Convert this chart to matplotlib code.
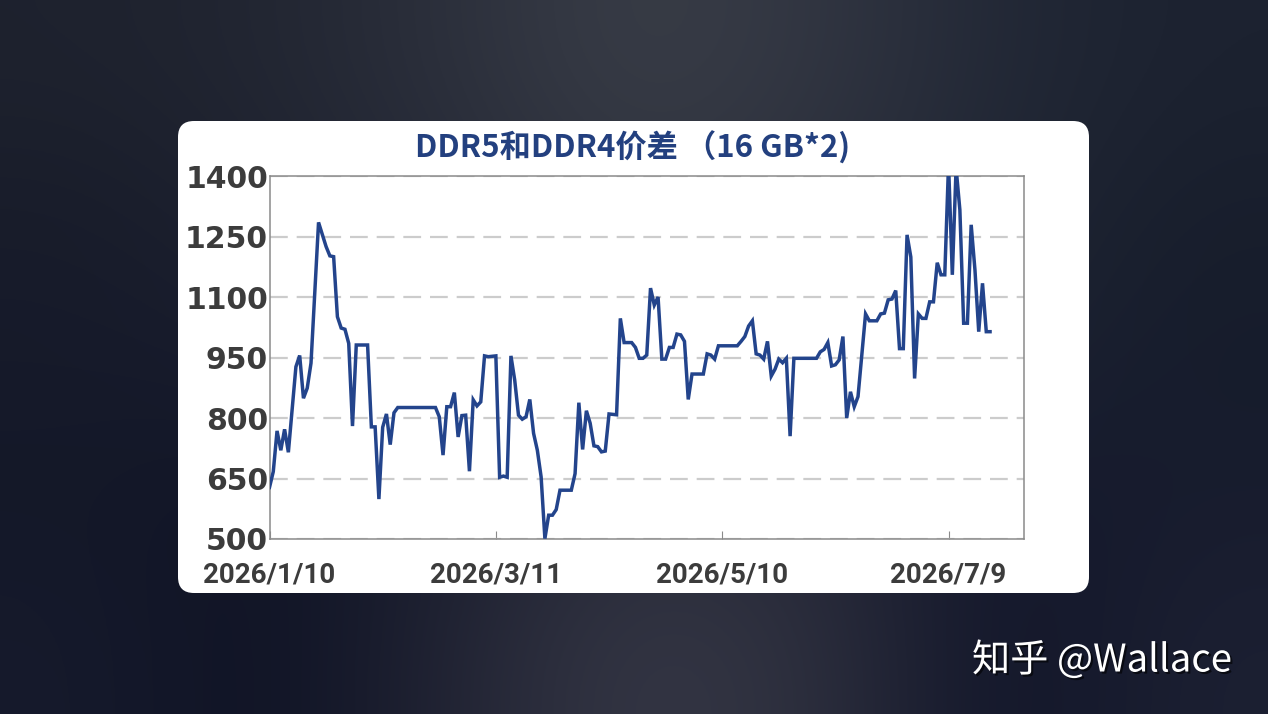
import numpy as np
import matplotlib
matplotlib.use('Agg')
import matplotlib.pyplot as plt
from matplotlib.patches import FancyBboxPatch
import matplotlib.patheffects as pe

# DDR5 - DDR4 price spread (16 GB*2), day offsets from 2026/1/10
start = np.datetime64('2026-01-10')
day_offsets = [0, 1, 2, 3, 4, 5, 7, 8, 9, 10, 11, 13, 15, 16, 17, 18, 19, 20, 21, 22,
               23, 26, 27, 28, 29, 30, 31, 32, 33, 34, 44, 45, 46, 47, 48, 49, 50, 51, 52, 53,
               54, 55, 56, 57, 58, 60, 61, 62, 63, 64, 65, 66, 67, 68, 69, 70, 71, 72, 73, 74,
               75, 76, 77, 80, 81, 82, 83, 84, 85, 86, 87, 88, 89, 90, 92, 93, 94, 96, 97, 98,
               99, 100, 101, 102, 103, 104, 105, 106, 107, 108, 109, 110, 111, 112, 115, 116, 117, 118, 119, 124,
               125, 126, 127, 128, 129, 130, 131, 132, 133, 134, 135, 136, 137, 138, 139, 145, 146, 147, 148, 149,
               150, 151, 152, 153, 154, 155, 156, 158, 159, 161, 162, 163, 164, 165, 166, 167, 168, 169, 170, 171,
               172, 173, 174, 175, 176, 177, 178, 179, 180, 181, 182, 183, 184, 185, 186, 187, 188, 189, 190, 191]
spread = [628, 667, 768, 720, 772, 715, 927, 955, 849, 874, 936, 1285, 1225, 1202, 1200, 1051, 1023, 1020, 985, 780,
          981, 981, 778, 778, 599, 777, 810, 734, 813, 826, 826, 803, 708, 828, 828, 863, 753, 806, 807, 668,
          845, 830, 840, 954, 952, 954, 653, 656, 653, 954, 894, 807, 797, 803, 846, 762, 720, 654, 501, 559,
          559, 573, 621, 621, 662, 838, 722, 818, 787, 731, 729, 716, 718, 810, 808, 1047, 987, 987, 975, 948,
          948, 956, 1122, 1080, 1100, 946, 946, 975, 975, 1008, 1006, 990, 846, 909, 909, 959, 956, 946, 979, 979,
          990, 1002, 1028, 1041, 959, 956, 946, 990, 904, 921, 946, 937, 948, 755, 948, 948, 964, 970, 987, 929,
          932, 944, 1002, 800, 865, 828, 853, 1058, 1041, 1041, 1058, 1060, 1093, 1095, 1116, 972, 972, 1254, 1199, 898,
          1058, 1047, 1047, 1088, 1088, 1185, 1155, 1155, 1430, 1155, 1420, 1316, 1035, 1035, 1279, 1167, 1014, 1134, 1014, 1014]

y_ticks = [500, 650, 800, 950, 1100, 1250, 1400]
x_tick_offsets = [0, 60, 120, 180]
x_tick_labels = ['2026/1/10', '2026/3/11', '2026/5/10', '2026/7/9']
title = 'DDR5和DDR4价差 （16 GB*2)'

W, H = 1268, 714
fig = plt.figure(figsize=(W / 100, H / 100), dpi=100)

# blurred dark background + white card, drawn in pixel coords
bg = fig.add_axes([0, 0, 1, 1])
bg.set_xlim(0, W)
bg.set_ylim(H, 0)
bg.axis('off')
coarse = np.array([
    [[30, 34, 46], [34, 38, 50], [44, 48, 60], [58, 62, 72], [50, 54, 66], [34, 40, 54], [28, 34, 48]],
    [[24, 28, 42], [30, 34, 48], [38, 42, 56], [50, 54, 64], [44, 48, 60], [32, 38, 52], [24, 30, 44]],
    [[22, 26, 42], [24, 28, 46], [32, 36, 52], [38, 42, 54], [36, 40, 54], [28, 34, 50], [22, 28, 44]],
    [[20, 24, 40], [16, 20, 38], [28, 32, 48], [42, 44, 58], [38, 40, 56], [20, 24, 44], [24, 28, 46]],
    [[22, 26, 44], [14, 18, 36], [34, 36, 52], [54, 56, 70], [46, 48, 62], [16, 20, 40], [28, 32, 50]],
]) / 255.0
bg.imshow(coarse, extent=[0, W, H, 0], interpolation='bicubic', aspect='auto', zorder=0)
card = FancyBboxPatch((178, 121), 911, 472, boxstyle='round,pad=0,rounding_size=16',
                      facecolor='white', edgecolor='none', zorder=1)
bg.add_patch(card)

bg.text(633, 148, title, ha='center', va='center', fontsize=22.5, fontweight='heavy',
        color='#23407f', family=['Noto Sans CJK SC', 'DejaVu Sans'], zorder=2)
bg.text(1232, 661, '知乎 @Wallace', ha='right', va='center', fontsize=27.5,
        color='white', family=['Noto Sans CJK SC', 'DejaVu Sans'], zorder=2,
        path_effects=[pe.withSimplePatchShadow(offset=(1.5, -1.5), shadow_rgbFace='black', alpha=0.6)])

# chart
ax = fig.add_axes([269.5 / W, 1 - 539 / H, (1024 - 269.5) / W, (539 - 176) / H])
ax.set_facecolor('none')
dates = [start + np.timedelta64(d, 'D') for d in day_offsets]
ax.plot(dates, spread, color='#23448c', linewidth=2.5, solid_joinstyle='miter', zorder=3)

ax.set_ylim(500, 1400)
ax.set_xlim(start, start + np.timedelta64(200, 'D'))
ax.set_yticks(y_ticks)
ax.set_xticks([start + np.timedelta64(d, 'D') for d in x_tick_offsets])
ax.set_xticklabels(x_tick_labels)
ax.grid(axis='y', color='#cccccc', linestyle=(0, (8, 4)), linewidth=1.6, zorder=1)
for s in ax.spines.values():
    s.set_color('#8a8a8a')
    s.set_linewidth(1.1)
ax.tick_params(axis='y', length=0, pad=1, labelcolor='#3c3c3c')
ax.tick_params(axis='x', direction='in', length=6, color='#8a8a8a', pad=16, labelcolor='#3c3c3c')
for lab in ax.get_yticklabels():
    lab.set_fontweight('bold')
    lab.set_fontsize(21.5)
    lab.set_family(['DejaVu Sans'])
for lab in ax.get_xticklabels():
    lab.set_fontweight('bold')
    lab.set_fontsize(20)
    lab.set_family(['Roboto', 'DejaVu Sans'])

fig.savefig('out.png', dpi=100)
